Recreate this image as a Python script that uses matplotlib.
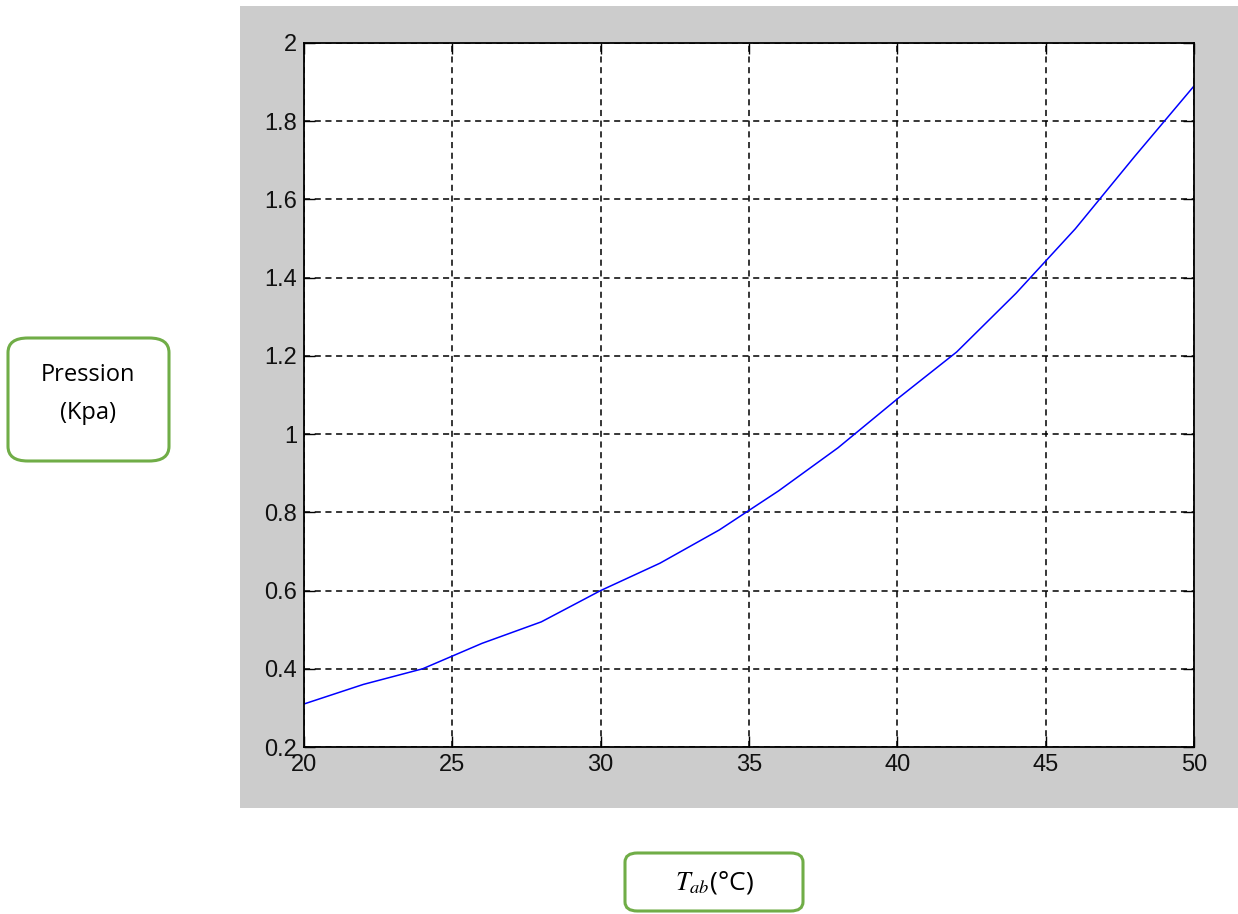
import matplotlib
matplotlib.use("Agg")
import matplotlib.pyplot as plt
from matplotlib.patches import Rectangle, FancyBboxPatch

plt.rcParams["font.family"] = ["Liberation Sans", "DejaVu Sans"]

# temperature (°C) and pressure (Kpa)
temps = [20, 22, 24, 26, 28, 30, 32, 34, 36, 38, 40, 42, 44, 46, 48, 50]
pression = [0.31, 0.36, 0.40, 0.465, 0.52, 0.60, 0.67, 0.755, 0.855, 0.965,
            1.09, 1.21, 1.36, 1.525, 1.71, 1.89]

x_ticks = [20, 25, 30, 35, 40, 45, 50]
y_ticks = [0.2, 0.4, 0.6, 0.8, 1, 1.2, 1.4, 1.6, 1.8, 2]
y_labels = ["0.2", "0.4", "0.6", "0.8", "1", "1.2", "1.4", "1.6", "1.8", "2"]

W, H = 1238, 914
fig = plt.figure(figsize=(W / 100, H / 100), dpi=100)
fig.patch.set_facecolor("white")

# grey matlab-like panel behind the axes
fig.patches.append(Rectangle((240 / W, 1 - 808 / H), (W - 240) / W, (808 - 6) / H,
                             transform=fig.transFigure, facecolor="#cccccc",
                             edgecolor="none", zorder=0))

ax = fig.add_axes([304 / W, 1 - 747 / H, (1194 - 304) / W, (747 - 43) / H])
ax.set_zorder(2)
ax.plot(temps, pression, color="#0000ff", lw=1.1)
ax.set_xlim(20, 50)
ax.set_ylim(0.2, 2)
ax.set_xticks(x_ticks)
ax.set_yticks(y_ticks)
ax.set_yticklabels(y_labels)
ax.grid(True, color="black", linestyle=(0, (4, 3)), lw=1.1)
ax.tick_params(direction="in", length=8, width=1, top=True, right=True,
               labelsize=17, pad=5, labelcolor="#111111")
for s in ax.spines.values():
    s.set_linewidth(1.3)

green = "#70ad47"
box_font = ["Open Sans", "DejaVu Sans"]

# y label box
fig.patches.append(FancyBboxPatch((8 / W, 1 - 461 / H), (169 - 8) / W, (461 - 338) / H,
                                  boxstyle="round,pad=0,rounding_size=0.016",
                                  transform=fig.transFigure, facecolor="white",
                                  edgecolor=green, lw=2.2, zorder=1))
fig.text(88 / W, 1 - 394 / H, "Pression\n(Kpa)", ha="center", va="center",
         fontsize=17, family=box_font, linespacing=1.8)

# x label box
fig.patches.append(FancyBboxPatch((625 / W, 1 - 911 / H), (803 - 625) / W, (911 - 853) / H,
                                  boxstyle="round,pad=0,rounding_size=0.01",
                                  transform=fig.transFigure, facecolor="white",
                                  edgecolor=green, lw=2.2, zorder=1))
fig.text(714 / W, 1 - 883 / H, r"$T_{ab}$(°C)", ha="center", va="center",
         fontsize=19, family=box_font, math_fontfamily="stix")

fig.savefig("out.png", dpi=100)
